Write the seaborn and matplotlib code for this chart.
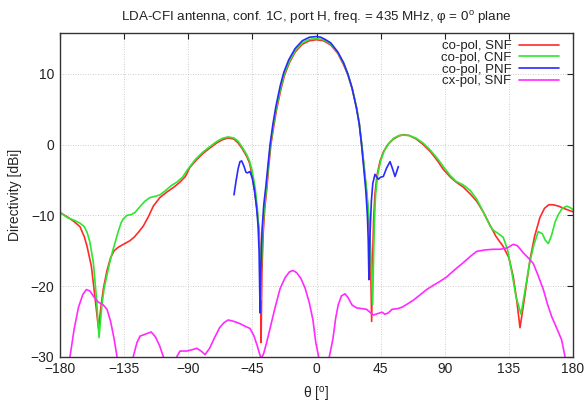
import numpy as np
import pandas as pd
import matplotlib
matplotlib.use("Agg")
import matplotlib.pyplot as plt
import seaborn as sns

# ---------------- data ----------------
red_theta = [-180, -175, -170, -166, -163, -161, -158, -155.5, -153, -151, -149.5, -147, -144.5, -142,
             -139, -135.5, -131, -128, -125, -121.5, -118, -114.5, -110, -105, -100, -95.8, -92, -88.8,
             -84, -79.4, -75, -70, -66, -62, -58, -55, -52, -49, -47, -45.5, -43.2, -41.5, -40.1, -39.4,
             -38.9, -38.3, -37.4, -36.3, -35, -33.5, -32, -30, -28, -25, -22.5, -19, -15, -10, -5, 0,
             5, 10, 15, 19, 22, 25, 28, 30, 31.7, 33.5, 35, 36.3, 37.3, 38, 38.7, 39.3, 40, 41, 42.5,
             44.5, 47, 50, 54, 58, 61, 65, 70, 75, 80, 85, 89, 94, 98, 103, 108, 112.4, 117, 121.8,
             126, 131, 135, 138, 140.5, 142.8, 145, 147.5, 149.8, 153, 156.8, 160, 163, 166, 170,
             173.2, 176, 180]
red_db = [-9.6, -10.2, -10.9, -11.6, -13.0, -14.4, -17.2, -21.5, -26.0, -22.5, -20.3, -17.8, -16.0, -15.0,
          -14.5, -14.1, -13.6, -13.1, -12.4, -11.5, -10.2, -8.7, -7.5, -6.7, -6.0, -5.3, -4.5, -3.2,
          -2.1, -1.2, -0.5, 0.25, 0.7, 0.95, 0.8, 0.25, -0.6, -1.65, -2.6, -4.0, -6.8, -9.7, -12.5, -17,
          -28, -18, -12.5, -9, -6.5, -3, 0, 2.6, 5.0, 7.8, 9.8, 11.6, 13.1, 14.2, 14.7, 14.85,
          14.7, 14.1, 12.9, 11.3, 9.9, 7.9, 5.3, 3.0, 0, -3.5, -6.5, -9.5, -13, -17, -25, -17, -11, -7, -4.3,
          -2.4, -1.0, 0, 0.8, 1.25, 1.4, 1.3, 0.8, 0, -1, -2.3, -3.5, -4.6, -5.3, -6.0, -7.0, -8.0, -9.5, -11.4,
          -13.0, -14.4, -16.0, -18.6, -22, -25.9, -23, -19.5, -16.3, -13, -10.3, -9.0, -8.5, -8.5, -8.7,
          -9.0, -9.2, -9.5]

green_theta = [-180, -175, -170, -166, -163, -161, -159, -156.6, -154.5, -152.6, -150.5, -149, -147.2, -145,
               -143, -141.4, -139, -137, -135.6, -133, -130, -127.4, -124, -120.4, -117, -113, -109.8, -106,
               -102, -98, -94, -90, -85, -80, -75, -70, -66, -62, -58, -55, -52, -49, -47, -45, -43, -41.5,
               -40.5, -39.6, -39.2, -38.7, -37.8, -36.7, -35.3, -33.8, -32.3, -30.3, -28.3, -25.3, -22.8,
               -19.3, -15, -10, -5, 0, 5, 10, 15, 19, 22, 25, 28, 30, 31.8, 33.6, 35.2, 36.5, 37.6, 38.5,
               39.4, 40, 40.6, 41.5, 43, 45, 47.5, 50.5, 54, 58, 61, 65, 70, 75, 80, 85, 89, 94, 98, 103,
               108, 112.4, 117, 121.8, 124, 127, 131, 134, 137, 140, 143.5, 146, 149.5, 152.5, 155.6,
               158.5, 160.5, 162.7, 165, 167.5, 169.7, 172.5, 175.6, 178, 180]
green_db = [-9.6, -10.3, -10.7, -11.1, -11.6, -12.4, -13.8, -16.7, -21.5, -27.3, -22.5, -20.3, -18.6, -16.6,
            -15.0, -13.9, -12.2, -11.0, -10.5, -10.0, -9.9, -9.6, -8.8, -8.0, -7.5, -7.3, -7.1, -6.5,
            -5.8, -5.3, -4.6, -3.4, -2.1, -1.1, -0.3, 0.45, 0.9, 1.1, 0.95, 0.5, -0.4, -1.4, -2.3, -3.8, -6.2, -9.0,
            -12, -16, -22, -17, -12.5, -9, -6.5, -3, 0, 2.7, 5.1, 7.9, 9.9,
            11.7, 13.3, 14.4, 14.9, 15.0, 14.85, 14.25, 13.0, 11.5, 10.0, 8.0, 5.4, 3.1, 0.1, -3.4, -6.4, -9.5, -13, -17,
            -22.6, -16.5, -11, -7, -4.2, -2.3, -0.9, 0.1, 0.9, 1.3, 1.35, 1.3, 0.9, 0.2, -0.8, -2.0, -3.1, -4.4, -5.2, -5.7,
            -6.5, -7.7, -9.5, -11.5, -12.1, -12.5, -13.1, -14.8, -18.0, -21.5, -24.0, -21, -16.8, -14.2, -12.3,
            -12.6, -13.5, -14.0, -12.8, -10.9, -9.9, -9.0, -8.7, -8.9, -9.2]

blue_theta = [-57.9, -56.5, -55, -53.7, -52.5, -51, -49.5, -48.5, -46.7, -45, -43.5, -42, -41, -40.3, -39.6,
              -39, -38.2, -37, -35.6, -34, -32.6, -30.6, -28.5, -25.5, -23, -19.5, -15, -10, -5, 0, 3, 6,
              10, 15, 19, 22, 25, 28, 30, 31.6, 33.2, 34.6, 35.7, 36.3, 36.8, 37.5, 38.5, 39.5, 41, 43.4,
              45, 46.9, 49.2, 51.6, 53, 55.1, 56.3, 57.4]
blue_db = [-7.1, -5.2, -3.4, -2.4, -2.3, -3.0, -3.9, -4.0, -3.8, -4.8, -6.5, -9.0, -11.5, -15, -23.8,
           -17, -12, -8.5, -6, -2.8, 0, 2.9, 5.4, 8.3, 10.2, 12.0, 13.6, 14.7, 15.2, 15.3, 15.2, 14.9,
           14.4, 13.1, 11.6, 10.0, 8.0, 5.2, 2.9, 0, -3.4, -6.5, -10, -13.5, -19.1, -13, -8, -5.5, -4.2, -4.9,
           -4.6, -4.5, -3.3, -2.4, -3.2, -4.5, -3.8, -3.1]

mag_theta = [-180, -176, -173, -170, -167, -164, -161.5, -159, -156, -153, -150, -147, -144.5, -142, -140,
             -137, -134, -131, -128.6, -126, -123.9, -120, -116, -113, -110, -107.5, -104, -101, -98, -95.8,
             -91, -87, -84, -81, -78.2, -75, -72, -68, -65, -62, -58, -54, -50, -46.7, -44, -41.5, -39.5,
             -38.5, -37, -35, -32, -29, -25.6, -22, -19, -16.5, -14, -11, -8, -5, -2.5, -0.5, 2, 5, 8, 9.5,
             11.5, 13.5, 15.3, 17.5, 20, 22, 25, 28.2, 32, 35.2, 38, 40, 43, 46, 48, 50.4, 53, 57, 60, 63.3,
             68, 73, 77.3, 82, 87, 91.4, 97, 103, 108, 112.4, 118, 124, 128.8, 134, 138, 141, 145.1, 149,
             152.1, 155.5, 159.2, 162, 165, 168, 172, 174.4, 177, 180]
mag_db = [-38, -34, -30, -26, -23, -21.2, -20.5, -20.7, -21.6, -22.3, -22.6, -23.3, -25, -27.5, -30,
          -34, -36, -33.5, -30, -28, -27.1, -26.8, -26.5, -27.2, -28.5, -30, -33, -32, -30, -29.2,
          -29.2, -29, -28.8, -29.2, -29.7, -28.8, -27.5, -25.9, -25.2, -24.8, -25.0, -25.3, -25.7, -26.0, -27, -28.5, -29.9,
          -30.2, -29.5, -28, -25.5, -23, -20.4, -18.8, -18.0, -17.8, -18.1, -18.9, -20.3, -22.4, -24.8, -28, -30.5, -33, -31, -29.5,
          -27.5, -24.5, -22.6, -21.4, -21.1, -21.6, -22.7, -23.1, -23.2, -23.3, -23.8, -24.1, -23.9, -23.7, -24.0, -23.8, -23.3, -23.2, -23.0, -22.6,
          -22, -21.2, -20.5, -19.9, -19.3, -18.7, -17.7, -16.7, -15.8, -15.1, -14.9, -14.8, -14.8, -14.6, -14.1, -14.3, -15.3, -16.1,
          -16.8, -18.5, -20.5, -22.5, -24.3, -25.7, -27.6, -30, -33, -36]

labels = ["co-pol, SNF", "co-pol, CNF", "co-pol, PNF", "cx-pol, SNF"]
colors = ["#ff2a2a", "#2ee62e", "#2a2aff", "#ff2aff"]
x_ticks = [-180, -135, -90, -45, 0, 45, 90, 135, 180]
y_ticks = [-30, -20, -10, 0, 10]

# ---------------- style ----------------
sns.set_theme(style="white")
plt.rcParams["font.family"] = ["Liberation Sans", "DejaVu Sans"]
plt.rcParams["mathtext.fontset"] = "custom"
plt.rcParams["mathtext.rm"] = "Liberation Sans"
plt.rcParams["mathtext.it"] = "Liberation Sans:italic"

fig = plt.figure(figsize=(5.86, 4.07), dpi=100)
ax = fig.add_axes([60 / 586, 1 - 356.7 / 407, (573 - 60) / 586, (356.7 - 33) / 407])

series = [(red_theta, red_db), (green_theta, green_db), (blue_theta, blue_db), (mag_theta, mag_db)]
for (th, db), lab, col in zip(series, labels, colors):
    df = pd.DataFrame({"theta": th, "db": db})
    sns.lineplot(data=df, x="theta", y="db", ax=ax, color=col, lw=1.2, label=lab,
                 sort=False, estimator=None)

ax.set_xlim(-180, 180)
ax.set_ylim(-30, 15.8)
ax.set_xticks(x_ticks)
ax.set_yticks(y_ticks)
ax.tick_params(direction="in", length=4, width=0.8, top=True, right=True,
               labelsize=10, colors="#222222", pad=4)
ax.grid(True, color="#bdbdbd", linestyle=(0, (1, 2)), linewidth=0.6)
for s in ax.spines.values():
    s.set_color("#333333")
    s.set_linewidth(1.0)

ax.set_xlabel(r"θ [$^{\rm o}$]", fontsize=10, color="#222222", labelpad=6)
ax.set_ylabel("Directivity [dBi]", fontsize=10, color="#222222", labelpad=6)
ax.set_title(r"LDA-CFI antenna, conf. 1C, port H, freq. = 435 MHz, φ = 0$^{\rm o}$ plane",
             fontsize=9.6, color="#222222", pad=9)

leg = ax.legend(loc="upper right", frameon=False, markerfirst=False, fontsize=9.5,
                handlelength=3.0, handletextpad=0.6, labelspacing=-0.05,
                borderaxespad=0.15, bbox_to_anchor=(0.987, 1.0))
for t in leg.get_texts():
    t.set_ha("right")
    t.set_color("#222222")

fig.savefig("out.png", dpi=100)
